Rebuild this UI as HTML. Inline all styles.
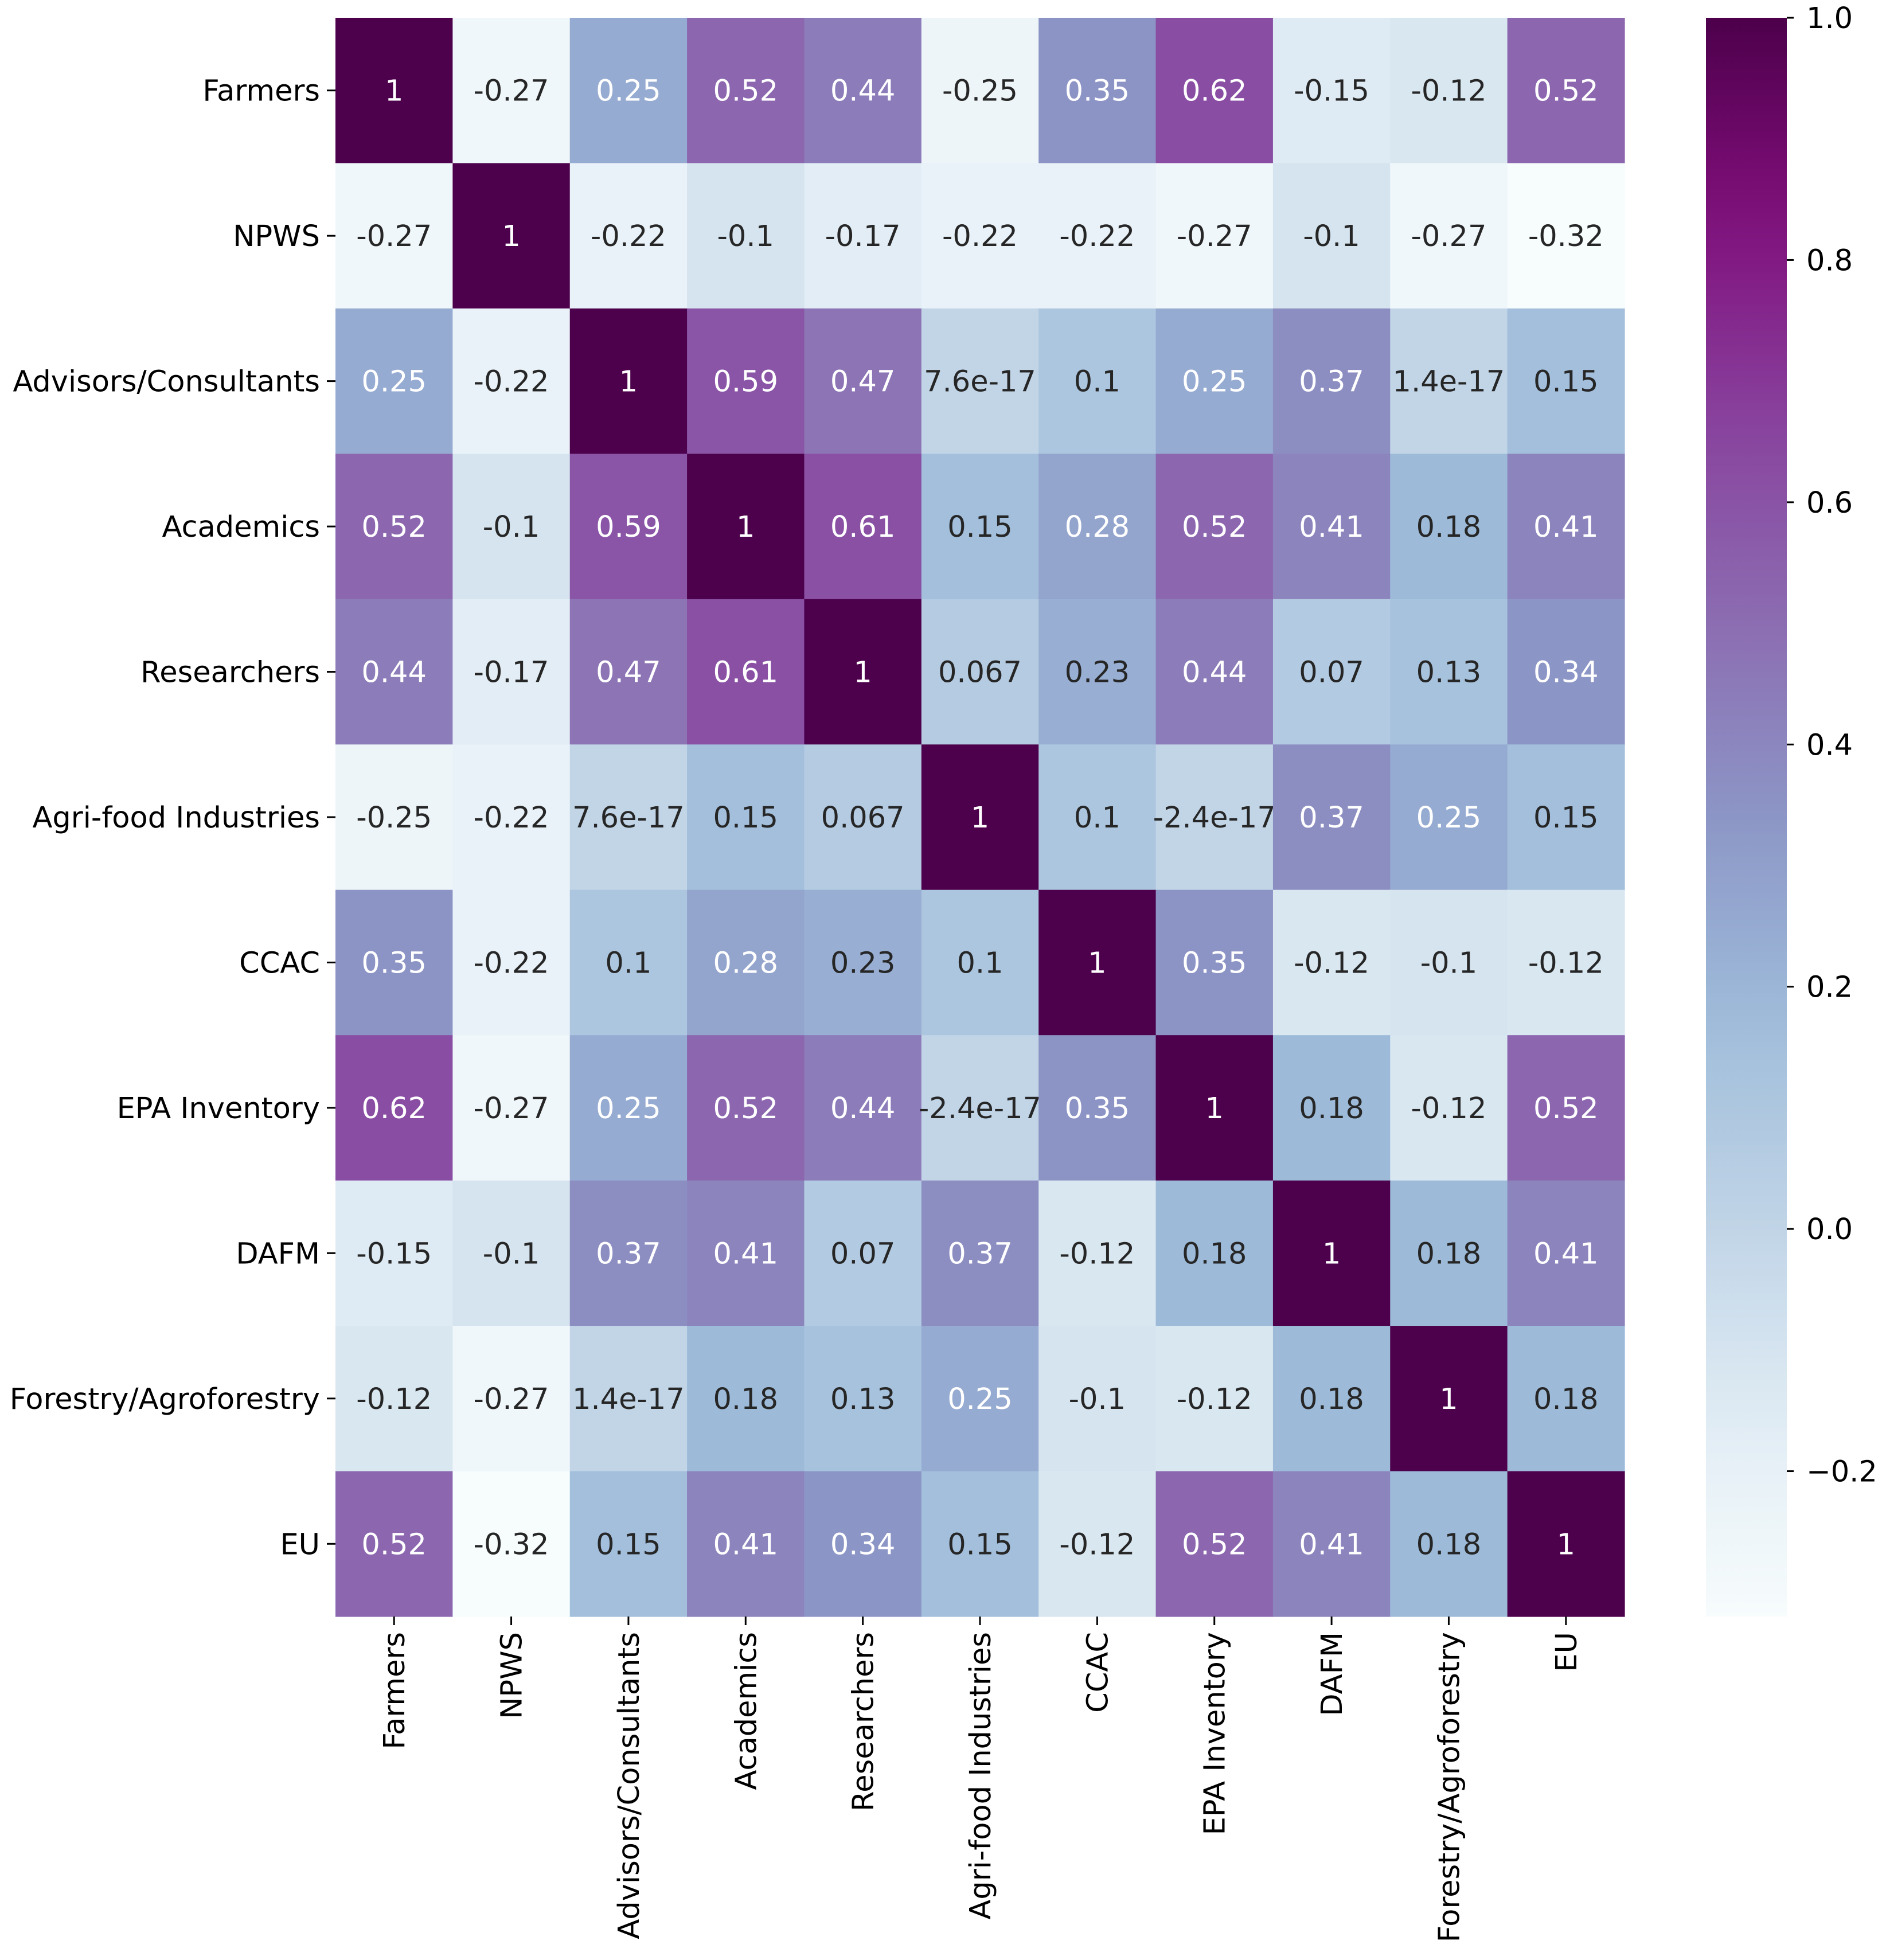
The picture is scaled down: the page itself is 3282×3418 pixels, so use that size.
<!DOCTYPE html>
<html><head><meta charset="utf-8"><style>html,body{margin:0;padding:0;background:#fff}svg{display:block}text{font-family:"DejaVu Sans","Liberation Sans",sans-serif}</style></head>
<body>
<svg id="chart" width="3282" height="3418" viewBox="0 0 3282 3418" xmlns="http://www.w3.org/2000/svg">
<defs><linearGradient id="cbgrad" x1="0" y1="1" x2="0" y2="0"></linearGradient></defs>
<g id="cells"></g>
<g id="ylabels"></g>
<g id="xlabels"></g>
<rect id="cbar" x="2975" y="31" width="141" height="2788" fill="url(#cbgrad)"/>
<g id="cbticks"></g>
</svg>
<script>
const categories = ["Farmers","NPWS","Advisors/Consultants","Academics","Researchers","Agri-food Industries","CCAC","EPA Inventory","DAFM","Forestry/Agroforestry","EU"];
const row0 = [1,-0.27,0.25,0.52,0.44,-0.25,0.35,0.62,-0.15,-0.12,0.52];
const row1 = [-0.27,1,-0.22,-0.1,-0.17,-0.22,-0.22,-0.27,-0.1,-0.27,-0.32];
const row2 = [0.25,-0.22,1,0.59,0.47,7.6e-17,0.1,0.25,0.37,1.4e-17,0.15];
const row3 = [0.52,-0.1,0.59,1,0.61,0.15,0.28,0.52,0.41,0.18,0.41];
const row4 = [0.44,-0.17,0.47,0.61,1,0.067,0.23,0.44,0.07,0.13,0.34];
const row5 = [-0.25,-0.22,7.6e-17,0.15,0.067,1,0.1,-2.4e-17,0.37,0.25,0.15];
const row6 = [0.35,-0.22,0.1,0.28,0.23,0.1,1,0.35,-0.12,-0.1,-0.12];
const row7 = [0.62,-0.27,0.25,0.52,0.44,-2.4e-17,0.35,1,0.18,-0.12,0.52];
const row8 = [-0.15,-0.1,0.37,0.41,0.07,0.37,-0.12,0.18,1,0.18,0.41];
const row9 = [-0.12,-0.27,1.4e-17,0.18,0.13,0.25,-0.1,-0.12,0.18,1,0.18];
const row10 = [0.52,-0.32,0.15,0.41,0.34,0.15,-0.12,0.52,0.41,0.18,1];
const matrix = [row0,row1,row2,row3,row4,row5,row6,row7,row8,row9,row10];
const cbTickValues = [-0.2,0,0.2,0.4,0.6,0.8,1.0];
const cbTickLabels = ["\u22120.2","0.0","0.2","0.4","0.6","0.8","1.0"];
const vmin = -0.32, vmax = 1.0;

const NS = "http://www.w3.org/2000/svg";
const X0 = 585, Y0 = 31, W = 2248, H = 2788, FS = 51;
const n = categories.length, cw = W/n, ch = H/n;
const stops = ["#f7fcfd","#e0ecf4","#bfd3e6","#9ebcda","#8c96c6","#8c6bb1","#88419d","#810f7c","#4d004b"];
function hex(h){return [1,3,5].map(i=>parseInt(h.substr(i,2),16));}
function cmap(t){t=Math.max(0,Math.min(1,t));const p=t*(stops.length-1);const i=Math.min(stops.length-2,Math.floor(p));const f=p-i;const a=hex(stops[i]),b=hex(stops[i+1]);return a.map((v,k)=>Math.round(v+(b[k]-v)*f));}
function lum(c){const l=c.map(v=>{v/=255;return v<=0.03928?v/12.92:Math.pow((v+0.055)/1.055,2.4)});return 0.2126*l[0]+0.7152*l[1]+0.0722*l[2];}
function xs(j){return X0+j*cw;} function ys(i){return Y0+i*ch;}
function cby(v){return Y0+H*(vmax-v)/(vmax-vmin);}
function mk(tag,attrs,parent){const e=document.createElementNS(NS,tag);for(const k in attrs)e.setAttribute(k,attrs[k]);parent.appendChild(e);return e;}
const cells=document.getElementById('cells');
matrix.forEach((row,i)=>row.forEach((v,j)=>{
  const c=cmap((v-vmin)/(vmax-vmin));
  const r=mk('rect',{x:xs(j),y:ys(i),width:cw+0.6,height:ch+0.6,fill:`rgb(${c.join(',')})`},cells);
  
  
  const t=mk('text',{x:xs(j)+cw/2,y:ys(i)+ch/2+18,'text-anchor':'middle','font-size':FS,fill:lum(c)<0.408?'#fff':'#262626'},cells);
  
  
  t.textContent=String(Number(v.toPrecision(2)));
}));
const yl=document.getElementById('ylabels'),xl=document.getElementById('xlabels');
categories.forEach((c,i)=>{
  const cy=ys(i)+ch/2;
  mk('line',{x1:X0-15,x2:X0,y1:cy,y2:cy,stroke:'#000','stroke-width':3},yl);
  const t=mk('text',{x:X0-27,y:cy+18,'text-anchor':'end','font-size':FS,fill:'#000'},yl);
  
  
  t.textContent=c;
  const cx=xs(i)+cw/2;
  mk('line',{x1:cx,x2:cx,y1:Y0+H,y2:Y0+H+15,stroke:'#000','stroke-width':3},xl);
  const tx=mk('text',{x:0,y:0,'text-anchor':'end','font-size':FS,fill:'#000',transform:`translate(${cx+18},${Y0+H+27}) rotate(-90)`},xl);
  
  
  tx.textContent=c;
});
const g=document.getElementById('cbgrad');
for(let k=0;k<=20;k++){const c=cmap(k/20);mk('stop',{offset:k/20,'stop-color':`rgb(${c.join(',')})`},g);}
const cbt=document.getElementById('cbticks');
cbTickValues.forEach((v,i)=>{
  const y=cby(v);
  mk('line',{x1:3116,x2:3128,y1:y,y2:y,stroke:'#000','stroke-width':3},cbt);
  const t=mk('text',{x:3150,y:y+18,'font-size':FS,fill:'#000'},cbt);
  
  
  t.textContent=cbTickLabels[i];
});
</script>
</body></html>
